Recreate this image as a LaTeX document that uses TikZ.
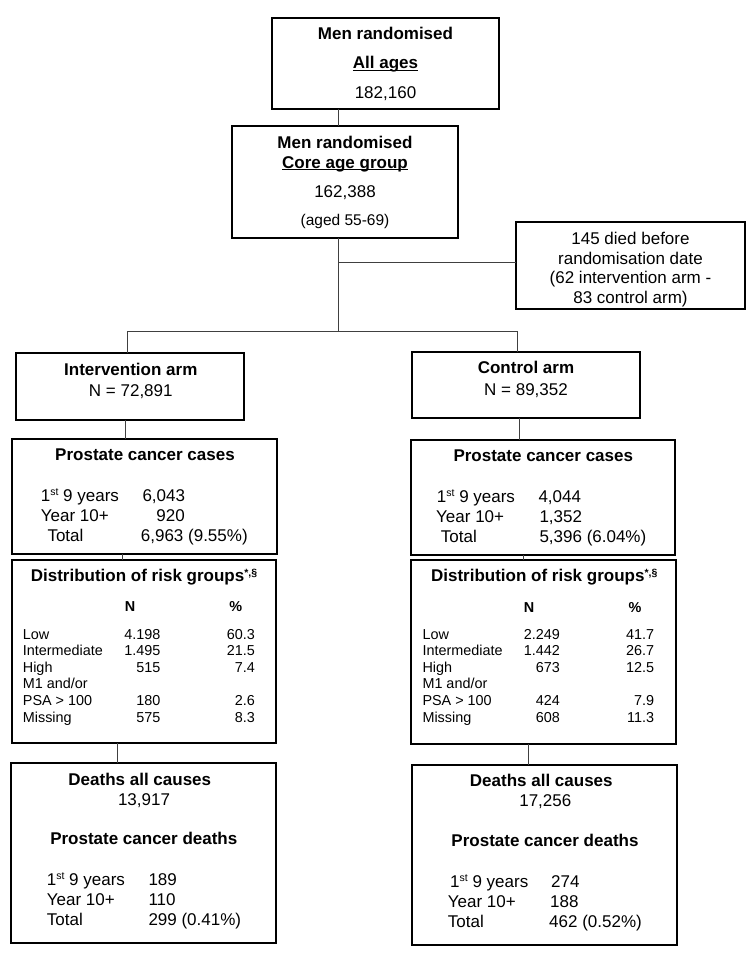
\documentclass[tikz,border=0pt]{standalone}
\usepackage{fontspec}
\setmainfont{Liberation Sans}
\usetikzlibrary{fit}
\newcommand\myul[1]{\setbox0\hbox{#1}\rlap{\rule[-2.4pt]{\wd0}{1.3pt}}\box0}
\newcommand\mysup[1]{\raisebox{5.5pt}{\fontsize{10.5}{11}\selectfont #1}}
\tikzset{
  box/.style={draw=black, line width=1.4pt, inner sep=0pt, outer sep=0pt},
  link/.style={draw=black!75, line width=0.9pt},
  txt/.style={anchor=base, inner sep=0pt, font=\fontsize{17}{20}\selectfont},
  btxt/.style={anchor=base, inner sep=0pt, font=\fontsize{17}{20}\selectfont\bfseries},
  stxt/.style={anchor=base, inner sep=0pt, font=\fontsize{14.4}{17}\selectfont},
  sbtxt/.style={anchor=base, inner sep=0pt, font=\fontsize{14.4}{17}\selectfont\bfseries},
}
\begin{document}
\begin{tikzpicture}[x=1pt,y=-1pt]
\useasboundingbox (0,0) rectangle (750,955);
\fill[white] (0,0) rectangle (750,955);

% ---- boxes
\node[box, fit={(272,18)(499,109)}] (all) {};
\node[box, fit={(232,126)(458,238)}] (core) {};
\node[box, fit={(516,222)(745,309)}] (died) {};
\node[box, fit={(16,353)(244,420)}] (intv) {};
\node[box, fit={(412,352)(640,418)}] (ctrl) {};
\node[box, fit={(12,439)(277,554)}] (casesL) {};
\node[box, fit={(411,440)(675,555)}] (casesR) {};
\node[box, fit={(12,560)(276,743)}] (riskL) {};
\node[box, fit={(411,560)(676,744)}] (riskR) {};
\node[box, fit={(11,763)(276,943)}] (deathL) {};
\node[box, fit={(412,765)(677,945)}] (deathR) {};

% ---- connector columns
\coordinate (c0) at (338,0);
\coordinate (sj) at (338,262);
\coordinate (jl) at (127,331);
\coordinate (jm) at (338,331);
\coordinate (jr) at (517,331);
\coordinate (k1) at (125,0);
\coordinate (k2) at (519,0);
\coordinate (k3) at (122,0);
\coordinate (k4) at (523,0);
\coordinate (k5) at (117,0);
\coordinate (k6) at (528,0);

\draw[link] (all.south -| c0) -- (core.north -| c0);
\draw[link] (core.south -| c0) -- (jm);
\draw[link] (sj) -- (sj -| died.west);
\draw[link] (jl) -- (jr);
\draw[link] (jl) -- (jl |- intv.north);
\draw[link] (jr) -- (jr |- ctrl.north);
\draw[link] (intv.south -| k1) -- (casesL.north -| k1);
\draw[link] (ctrl.south -| k2) -- (casesR.north -| k2);
\draw[link] (casesL.south -| k3) -- (riskL.north -| k3);
\draw[link] (casesR.south -| k4) -- (riskR.north -| k4);
\draw[link] (riskL.south -| k5) -- (deathL.north -| k5);
\draw[link] (riskR.south -| k6) -- (deathR.north -| k6);

% ---- top boxes text
\node[btxt] (allA) at (385.5,39.5) {Men randomised};
\node[btxt] (allB) at (385.5,69) {\myul{All ages}};
\node[txt] (allC) at (385.5,99) {182,160};

\node[btxt] (coreA) at (345,148) {Men randomised};
\node[btxt] (coreB) at (345,168) {\myul{Core age group}};
\node[txt] (coreC) at (345,197) {162,388};
\node[anchor=base, inner sep=0pt, font=\fontsize{15.5}{18}\selectfont] (coreD) at (345,225.5) {(aged 55-69)};

\node[txt] (diedA) at (630.5,244) {145 died before};
\node[txt] (diedB) at (630.5,264) {randomisation date};
\node[txt] (diedC) at (630.5,283.5) {(62 intervention arm -};
\node[txt] (diedD) at (630.5,303) {83 control arm)};

\node[btxt] (intvA) at (130.8,375.5) {Intervention arm};
\node[txt] (intvB) at (130.8,396) {N = 72,891};
\node[btxt] (ctrlA) at (526,373.5) {Control arm};
\node[txt] (ctrlB) at (526,395) {N = 89,352};

% ---- cases
\node[btxt] (cLt) at (145,460.7) {Prostate cancer cases};
\node[txt, anchor=base west] (cL1) at (40.7,501) {1\mysup{st} 9 years};
\node[txt, anchor=base west] (cL2) at (40.7,521) {Year 10+};
\node[txt, anchor=base west] (cL3) at (47.3,541) {Total};
\node[txt, anchor=base west] (cL1v) at (142.3,501) {6,043};
\node[txt, anchor=base east] (cL2v) at (185,521) {920};
\node[txt, anchor=base west] (cL3v) at (140.7,541) {6,963 (9.55\%)};

\node[btxt] (cRt) at (543.3,461.7) {Prostate cancer cases};
\node[txt, anchor=base west] (cR1) at (436.7,502.3) {1\mysup{st} 9 years};
\node[txt, anchor=base west] (cR2) at (436,522.3) {Year 10+};
\node[txt, anchor=base west] (cR3) at (440.7,542.3) {Total};
\node[txt, anchor=base west] (cR1v) at (538.3,502.3) {4,044};
\node[txt, anchor=base west] (cR2v) at (539.3,522.3) {1,352};
\node[txt, anchor=base west] (cR3v) at (539.3,542.3) {5,396 (6.04\%)};

% ---- risk groups left
\node[btxt] (rLt) at (144,581.7) {Distribution of risk groups\mysup{*,§}};
\node[sbtxt] (rLN) at (130,611.7) {N};
\node[sbtxt] (rLP) at (235.7,611.7) {\%};
\node[stxt, anchor=base west] (rL1) at (22.7,639) {Low};
\node[stxt, anchor=base west] (rL2) at (22.7,655.6) {Intermediate};
\node[stxt, anchor=base west] (rL3) at (22.7,672.3) {High};
\node[stxt, anchor=base west] (rL4) at (22.7,688.9) {M1 and/or};
\node[stxt, anchor=base west] (rL5) at (22.7,705.6) {PSA > 100};
\node[stxt, anchor=base west] (rL6) at (22.7,722.2) {Missing};
\node[stxt, anchor=base east] (rL1n) at (160.7,639) {4.198};
\node[stxt, anchor=base east] (rL2n) at (160.7,655.6) {1.495};
\node[stxt, anchor=base east] (rL3n) at (160.7,672.3) {515};
\node[stxt, anchor=base east] (rL5n) at (160.7,705.6) {180};
\node[stxt, anchor=base east] (rL6n) at (160.7,722.2) {575};
\node[stxt, anchor=base east] (rL1p) at (255,639) {60.3};
\node[stxt, anchor=base east] (rL2p) at (255,655.6) {21.5};
\node[stxt, anchor=base east] (rL3p) at (255,672.3) {7.4};
\node[stxt, anchor=base east] (rL5p) at (255,705.6) {2.6};
\node[stxt, anchor=base east] (rL6p) at (255,722.2) {8.3};

% ---- risk groups right
\node[btxt] (rRt) at (544.2,581.7) {Distribution of risk groups\mysup{*,§}};
\node[sbtxt] (rRN) at (529,612.3) {N};
\node[sbtxt] (rRP) at (635,612.3) {\%};
\node[stxt, anchor=base west] (rR1) at (422.3,639) {Low};
\node[stxt, anchor=base west] (rR2) at (422.3,655.6) {Intermediate};
\node[stxt, anchor=base west] (rR3) at (422.3,672.3) {High};
\node[stxt, anchor=base west] (rR4) at (422.3,688.9) {M1 and/or};
\node[stxt, anchor=base west] (rR5) at (422.3,705.6) {PSA > 100};
\node[stxt, anchor=base west] (rR6) at (422.3,722.2) {Missing};
\node[stxt, anchor=base east] (rR1n) at (560,639) {2.249};
\node[stxt, anchor=base east] (rR2n) at (560,655.6) {1.442};
\node[stxt, anchor=base east] (rR3n) at (560,672.3) {673};
\node[stxt, anchor=base east] (rR5n) at (560,705.6) {424};
\node[stxt, anchor=base east] (rR6n) at (560,722.2) {608};
\node[stxt, anchor=base east] (rR1p) at (654.3,639) {41.7};
\node[stxt, anchor=base east] (rR2p) at (654.3,655.6) {26.7};
\node[stxt, anchor=base east] (rR3p) at (654.3,672.3) {12.5};
\node[stxt, anchor=base east] (rR5p) at (654.3,705.6) {7.9};
\node[stxt, anchor=base east] (rR6p) at (654.3,722.2) {11.3};

% ---- deaths
\node[btxt] (dLt) at (139.8,785) {Deaths all causes};
\node[txt] (dLn) at (144,805) {13,917};
\node[btxt] (dLp) at (143.8,844) {Prostate cancer deaths};
\node[txt, anchor=base west] (dL1) at (46.7,885) {1\mysup{st} 9 years};
\node[txt, anchor=base west] (dL2) at (46.7,905) {Year 10+};
\node[txt, anchor=base west] (dL3) at (46.7,925) {Total};
\node[txt, anchor=base west] (dL1v) at (148.3,885) {189};
\node[txt, anchor=base west] (dL2v) at (148.3,905) {110};
\node[txt, anchor=base west] (dL3v) at (148.3,925) {299 (0.41\%)};

\node[btxt] (dRt) at (541.3,786.7) {Deaths all causes};
\node[txt] (dRn) at (545.3,806.7) {17,256};
\node[btxt] (dRp) at (545,846) {Prostate cancer deaths};
\node[txt, anchor=base west] (dR1) at (450,887.3) {1\mysup{st} 9 years};
\node[txt, anchor=base west] (dR2) at (447.7,907.3) {Year 10+};
\node[txt, anchor=base west] (dR3) at (447.7,927.3) {Total};
\node[txt, anchor=base west] (dR1v) at (551,887.3) {274};
\node[txt, anchor=base west] (dR2v) at (550,907.3) {188};
\node[txt, anchor=base west] (dR3v) at (549,927.3) {462 (0.52\%)};
\end{tikzpicture}
\end{document}
